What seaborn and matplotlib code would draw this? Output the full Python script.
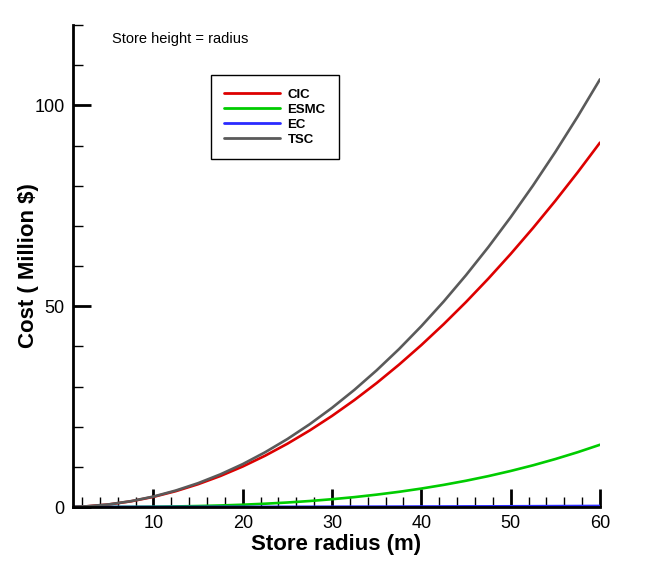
import numpy as np
import pandas as pd
import matplotlib
matplotlib.use("Agg")
import matplotlib.pyplot as plt
import seaborn as sns
from matplotlib.ticker import MultipleLocator

# Store radius (m) and cost components (million $)
radius = [1, 2.5, 5, 7.5, 10, 12.5, 15, 17.5, 20, 22.5, 25, 27.5, 30,
          32.5, 35, 37.5, 40, 42.5, 45, 47.5, 50, 52.5, 55, 57.5, 60]
cic = [0.03, 0.16, 0.63, 1.42, 2.52, 3.94, 5.67, 7.72, 10.08, 12.76, 15.75,
       19.06, 22.68, 26.62, 30.87, 35.44, 40.32, 45.52, 51.03, 56.86, 63.0,
       69.46, 76.23, 83.32, 90.72]
esmc = [0.0, 0.001, 0.009, 0.03, 0.07, 0.14, 0.24, 0.38, 0.57, 0.82, 1.12,
        1.49, 1.94, 2.46, 3.08, 3.78, 4.59, 5.51, 6.54, 7.69, 8.97, 10.38,
        11.94, 13.64, 15.5]
ec = [0.0, 0.0, 0.01, 0.01, 0.01, 0.02, 0.02, 0.03, 0.03, 0.04, 0.05, 0.06,
      0.07, 0.08, 0.09, 0.10, 0.12, 0.13, 0.15, 0.16, 0.18, 0.20, 0.22, 0.24,
      0.26]
tsc = [0.03, 0.16, 0.65, 1.46, 2.60, 4.10, 5.93, 8.13, 10.68, 13.62, 16.92,
       20.61, 24.69, 29.16, 34.04, 39.32, 45.03, 51.16, 57.72, 64.71, 72.15,
       80.04, 88.39, 97.20, 106.48]

series = {"CIC": cic, "ESMC": esmc, "EC": ec, "TSC": tsc}
colors = {"CIC": "#dd0000", "ESMC": "#00cc00", "EC": "#2a2aff", "TSC": "#5a5a5a"}

rows = []
for name, vals in series.items():
    for r, v in zip(radius, vals):
        rows.append({"radius": r, "cost": v, "series": name})
df = pd.DataFrame(rows)

sns.set_style("white")
plt.rcParams["font.family"] = ["Liberation Sans", "DejaVu Sans"]
for key in ("text.color", "axes.labelcolor", "xtick.color", "ytick.color"):
    plt.rcParams[key] = "black"

fig = plt.figure(figsize=(6.72, 5.70), dpi=100)
ax = fig.add_axes([73 / 672, 1 - 507 / 570, 527 / 672, 482 / 570])

sns.lineplot(data=df, x="radius", y="cost", hue="series", palette=colors,
             hue_order=list(series.keys()), linewidth=1.9, ax=ax, legend=True)

ax.set_xlim(1, 60)
ax.set_ylim(0, 120)

for side in ("top", "right"):
    ax.spines[side].set_visible(False)
for side in ("left", "bottom"):
    ax.spines[side].set_linewidth(2.0)
    ax.spines[side].set_color("black")
    ax.spines[side].set_zorder(5)

ax.xaxis.set_major_locator(MultipleLocator(10))
ax.xaxis.set_minor_locator(MultipleLocator(2))
ax.yaxis.set_major_locator(MultipleLocator(50))
ax.yaxis.set_minor_locator(MultipleLocator(10))
ax.tick_params(which="major", direction="in", length=13, width=2.0,
               labelsize=13, color="black", labelcolor="black", pad=6,
               bottom=True, left=True)
ax.tick_params(which="minor", direction="in", length=7, width=1.0,
               color="black", bottom=True, left=True)

ax.set_xlabel("Store radius (m)", fontsize=16, fontweight="bold", labelpad=1)
ax.set_ylabel("Cost ( Million $)", fontsize=16, fontweight="bold", labelpad=-3)

ax.text(0.074, 0.971, "Store height = radius", transform=ax.transAxes,
        fontsize=10.5, ha="left", va="center")

handles, labels = ax.get_legend_handles_labels()
leg = ax.legend(handles, labels, loc="upper left", bbox_to_anchor=(0.262, 0.896),
                frameon=True, fancybox=False, edgecolor="black", framealpha=1,
                prop={"weight": "bold", "size": 9.5}, handlelength=4.2,
                handletextpad=0.6, labelspacing=0.22, borderpad=1.0,
                borderaxespad=0)
leg.get_frame().set_linewidth(1.0)
for line in leg.get_lines():
    line.set_linewidth(2.0)

fig.savefig("out.png", dpi=100, facecolor="white")
